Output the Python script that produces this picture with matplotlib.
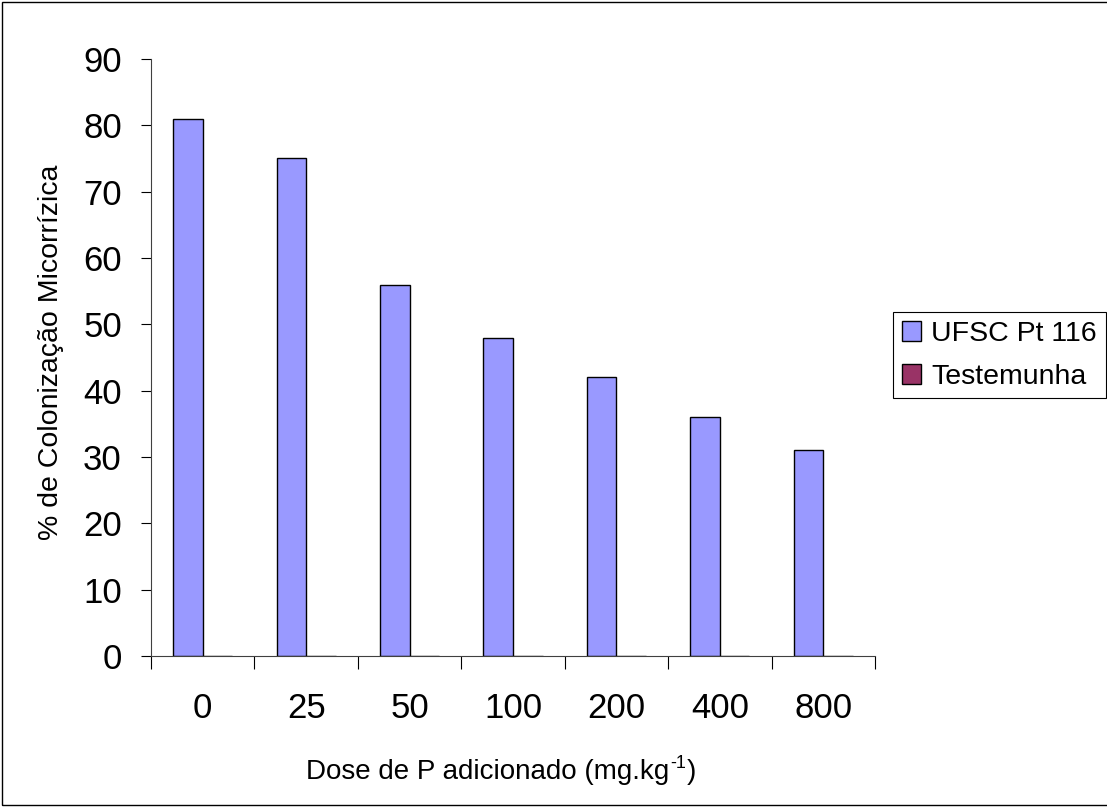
import numpy as np
import matplotlib
matplotlib.use('Agg')
import matplotlib.pyplot as plt
from matplotlib.patches import Rectangle

plt.rcParams['font.family'] = ['Liberation Sans', 'DejaVu Sans']

# doses de P e colonização (%)
doses = ['0', '25', '50', '100', '200', '400', '800']
ufsc_pt116 = [81, 75, 56, 48, 42, 36, 31]
testemunha = [0, 0, 0, 0, 0, 0, 0]

W, H = 1107, 807
fig = plt.figure(figsize=(W / 100, H / 100), dpi=100)
ax = fig.add_axes([151 / W, (H - 656) / H, (875 - 151) / W, (656 - 59) / H])

x = np.arange(len(doses))
w = 1 / 3.5
ax.bar(x - w / 2, ufsc_pt116, w, color='#9999FF', edgecolor='black', linewidth=1, label='UFSC Pt 116')
ax.bar(x + w / 2, testemunha, w, color='#993366', edgecolor='black', linewidth=1, label='Testemunha')

ax.set_xlim(-0.5, len(doses) - 0.5)
ax.set_ylim(0, 90)
ax.set_yticks(range(0, 91, 10))
ax.tick_params(axis='y', labelsize=25, length=7, width=0.8, pad=14)
ax.set_xticks(x)
ax.set_xticklabels(doses)
ax.set_xticks(np.arange(-0.5, len(doses)), minor=True)
ax.tick_params(axis='x', which='major', length=0, labelsize=25, pad=26)
ax.tick_params(axis='x', which='minor', length=9, width=0.8)

for s in ['top', 'right']:
    ax.spines[s].set_visible(False)
ax.spines['left'].set_color('#404040')
ax.spines['bottom'].set_color('#404040')

fig.text(51 / W, 1 - 352 / H, '% de Colonização Micorrízica', rotation=90,
         ha='center', va='center', fontsize=20.5)

# rótulo do eixo x com expoente -1
fig.canvas.draw()
r = fig.canvas.get_renderer()
t1 = fig.text(306 / W, 1 - 779 / H, 'Dose de P adicionado (mg.kg', ha='left', va='baseline', fontsize=20)
x1 = t1.get_window_extent(r).x1
t2 = fig.text(x1 / W + 1 / W, 1 - 768 / H, '-1', ha='left', va='baseline', fontsize=13)
x2 = t2.get_window_extent(r).x1
fig.text(x2 / W + 1 / W, 1 - 779 / H, ')', ha='left', va='baseline', fontsize=20)

leg = fig.legend(loc='upper left', bbox_to_anchor=(893 / W, 1 - 312 / H), fontsize=20.5,
                 frameon=True, fancybox=False, edgecolor='black', framealpha=1,
                 handlelength=0.7, handleheight=0.7, handletextpad=0.35,
                 borderpad=0.3, labelspacing=0.6, borderaxespad=0)
leg.get_frame().set_linewidth(0.8)

# moldura em volta da figura
fig.patches.append(Rectangle((2 / W, 2 / H), 1.2, 1 - 4 / H, transform=fig.transFigure,
                             fill=False, edgecolor='black', linewidth=1))

fig.savefig('out.png', dpi=100)
